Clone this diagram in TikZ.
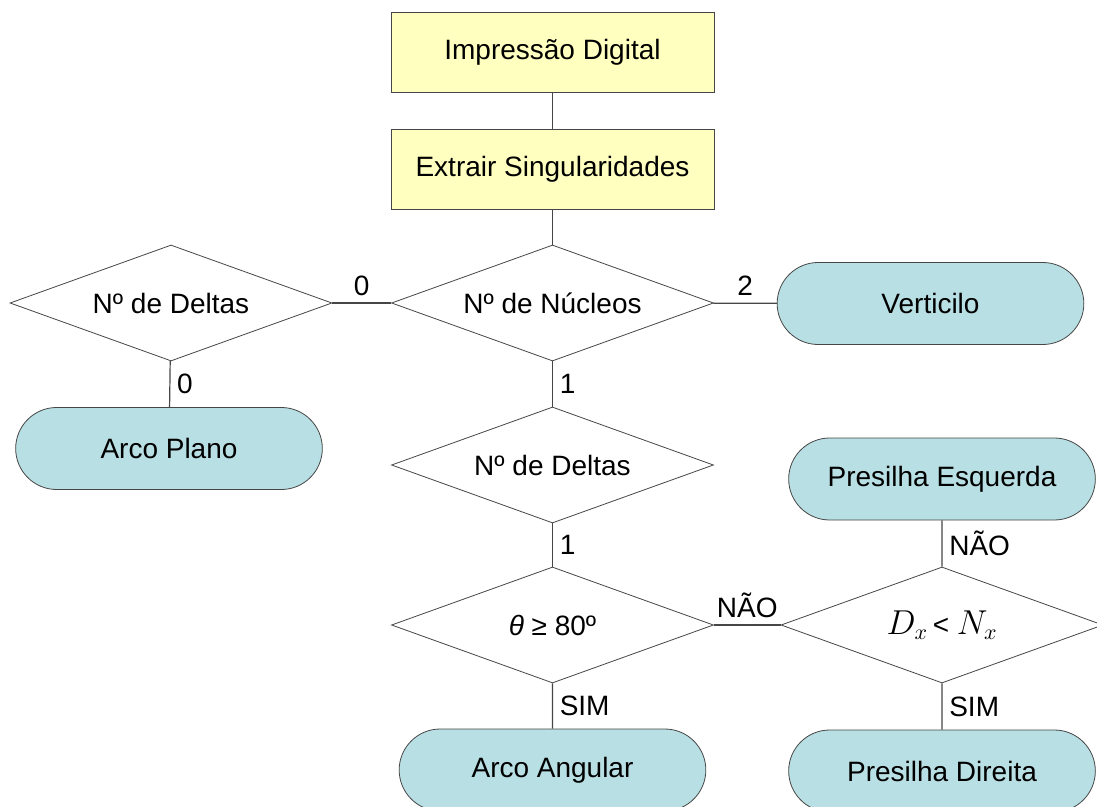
\documentclass[tikz,border=0pt]{standalone}
\usepackage{fontspec}
\setmainfont{Liberation Sans}
\usetikzlibrary{shapes.geometric,shapes.misc,positioning}

\definecolor{boxyellow}{RGB}{255,255,192}
\definecolor{termblue}{RGB}{184,223,227}
\definecolor{linegray}{RGB}{70,70,70}

\begin{document}
\begin{tikzpicture}[
    x=0.5pt, y=-0.5pt,
    font=\fontsize{14}{17}\selectfont,
    box/.style={draw=linegray, fill=boxyellow, rectangle, minimum width=161.5pt, minimum height=40pt},
    decision/.style={draw=linegray, fill=white, diamond, shape aspect=2.77, minimum width=161pt, minimum height=58pt, inner sep=1pt},
    term/.style={draw=linegray, fill=termblue, rounded rectangle, minimum width=160pt, minimum height=41pt},
    line/.style={draw=linegray, line width=0.6pt}
]
\useasboundingbox (0,0) rectangle (1097,807);

% Processing steps
\node[box] (imp) at (552.5,52) {Impressão Digital};
\node[box] (ext) at (552.5,169) {Extrair Singularidades};

% Decisions
\node[decision] (nuc) at (552.5,303) {Nº de Núcleos};
\node[decision] (delL) at (171,303) {Nº de Deltas};
\node[decision] (delM) at (552.5,465) {Nº de Deltas};
\node[decision] (theta) at (552.5,625) {\textit{θ} ≥ 80º};
\node[decision] (dx) at (942,625) {{\fontsize{16}{19}\selectfont$D_x$}\,< {\fontsize{16}{19}\selectfont$N_x$}};

% Classes
\node[term] (vert) at (930.5,303.5) {Verticilo};
\node[term] (arcoP) at (169,448.5) {Arco Plano};
\node[term] (presE) at (942,479) {Presilha Esquerda};
\node[term] (arcoA) at (552.5,770) {Arco Angular};
\node[term] (presD) at (942,771) {Presilha Direita};

% Connectors
\foreach \a/\b in {imp/ext, ext/nuc}
    \draw[line] (\a) -- (\b);
\draw[line] (nuc) -- node[midway, above] {0} (delL);
\draw[line] (delL) -- node[midway, right] {0} (arcoP);
\draw[line] (nuc) -- node[midway, above] {2} (vert);
\draw[line] (nuc) -- node[midway, right] {1} (delM);
\draw[line] (delM) -- node[midway, right] {1} (theta);
\draw[line] (theta) -- node[midway, above] {NÃO} (dx);
\draw[line] (theta) -- node[midway, right] {SIM} (arcoA);
\draw[line] (dx) -- node[midway, right] {NÃO} (presE);
\draw[line] (dx) -- node[midway, right] {SIM} (presD);

\end{tikzpicture}
\end{document}
